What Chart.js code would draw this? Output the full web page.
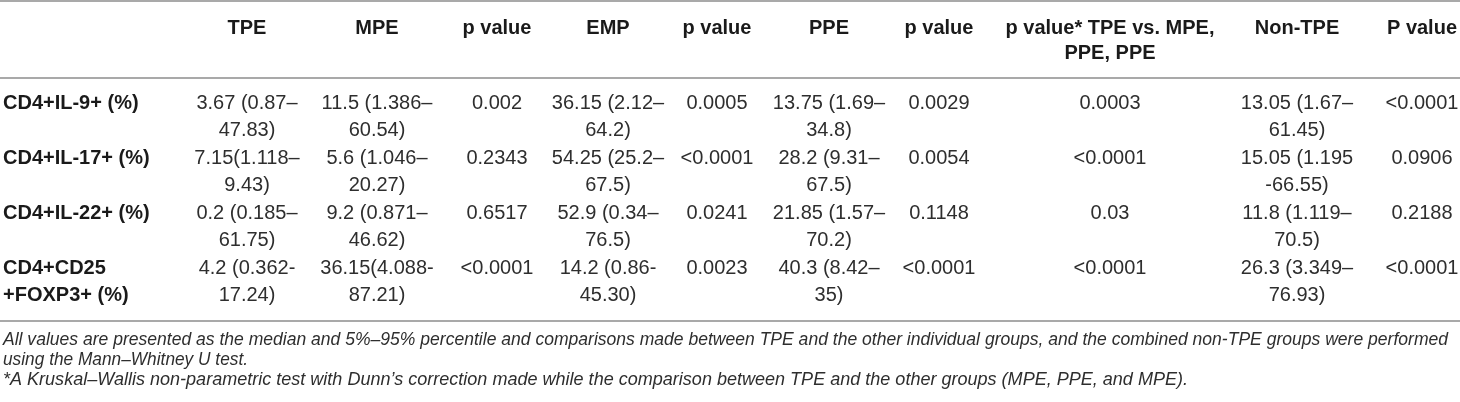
<!DOCTYPE html>
<html>
<head>
<meta charset="utf-8">
<script src="https://cdn.jsdelivr.net/npm/chart.js@4.4.1/dist/chart.umd.min.js"></script>
<style>
  html, body { margin: 0; padding: 0; background: #fff; }
  #wrap { width: 1460px; height: 402px; position: relative; }
</style>
</head>
<body>
<div id="wrap"><canvas id="tableChart"></canvas></div>
<script>
// table content, "\n" marks where the original cell wraps
const headers = ["TPE", "MPE", "p value", "EMP", "p value", "PPE", "p value",
  "p value* TPE vs. MPE,\nPPE, PPE", "Non-TPE", "P value"];

const rowLabels = ["CD4+IL-9+ (%)", "CD4+IL-17+ (%)", "CD4+IL-22+ (%)", "CD4+CD25\n+FOXP3+ (%)"];

const tpe = ["3.67 (0.87–\n47.83)", "7.15(1.118–\n9.43)", "0.2 (0.185–\n61.75)", "4.2 (0.362-\n17.24)"];
const mpe = ["11.5 (1.386–\n60.54)", "5.6 (1.046–\n20.27)", "9.2 (0.871–\n46.62)", "36.15(4.088-\n87.21)"];
const pMpe = ["0.002", "0.2343", "0.6517", "<0.0001"];
const emp = ["36.15 (2.12–\n64.2)", "54.25 (25.2–\n67.5)", "52.9 (0.34–\n76.5)", "14.2 (0.86-\n45.30)"];
const pEmp = ["0.0005", "<0.0001", "0.0241", "0.0023"];
const ppe = ["13.75 (1.69–\n34.8)", "28.2 (9.31–\n67.5)", "21.85 (1.57–\n70.2)", "40.3 (8.42–\n35)"];
const pPpe = ["0.0029", "0.0054", "0.1148", "<0.0001"];
const pKruskal = ["0.0003", "<0.0001", "0.03", "<0.0001"];
const nonTpe = ["13.05 (1.67–\n61.45)", "15.05 (1.195\n-66.55)", "11.8 (1.119–\n70.5)", "26.3 (3.349–\n76.93)"];
const pNonTpe = ["<0.0001", "0.0906", "0.2188", "<0.0001"];

const footnotes = [
  "All values are presented as the median and 5%–95% percentile and comparisons made between TPE and the other individual groups, and the combined non-TPE groups were performed",
  "using the Mann–Whitney U test.",
  "*A Kruskal–Wallis non-parametric test with Dunn’s correction made while the comparison between TPE and the other groups (MPE, PPE, and MPE)."
];

const columns = [tpe, mpe, pMpe, emp, pEmp, ppe, pPpe, pKruskal, nonTpe, pNonTpe];

// layout (in scale units = px of the 1460x402 picture)
const layout = {
  colCenter: [247, 377, 497, 608, 717, 829, 939, 1110, 1297, 1422],
  labelX: 3,
  headY: 28, headLine: 25,
  rowY: 103, rowStep: 55, lineStep: 27.5,
  rules: [1, 78, 321],
  noteX: 3, noteY: [340, 360, 380], noteEnd: [1448, 248, 1188]
};

const FONT = '"Liberation Sans", Arial, sans-serif';

const tablePlugin = {
  id: "tableCells",
  afterDraw(chart) {
    const ctx = chart.ctx;
    const xs = chart.scales.x, ys = chart.scales.y;
    const px = v => xs.getPixelForValue(v);
    const py = v => ys.getPixelForValue(v);
    ctx.save();

    // horizontal rules
    ctx.strokeStyle = "#a9a9a9";
    ctx.lineWidth = 2;
    layout.rules.forEach(r => {
      ctx.beginPath();
      ctx.moveTo(px(0), py(r));
      ctx.lineTo(px(1460), py(r));
      ctx.stroke();
    });

    ctx.textBaseline = "middle";

    // header row
    ctx.fillStyle = "#1a1a1a";
    ctx.font = "bold 20px " + FONT;
    ctx.textAlign = "center";
    headers.forEach((h, i) => {
      h.split("\n").forEach((line, k) => {
        ctx.fillText(line, px(layout.colCenter[i]), py(layout.headY + k * layout.headLine));
      });
    });

    // row labels
    ctx.textAlign = "left";
    rowLabels.forEach((lab, r) => {
      lab.split("\n").forEach((line, k) => {
        ctx.fillText(line, px(layout.labelX), py(layout.rowY + r * layout.rowStep + k * layout.lineStep));
      });
    });

    // body cells
    ctx.fillStyle = "#2e2e2e";
    ctx.font = "20px " + FONT;
    ctx.textAlign = "center";
    columns.forEach((col, c) => {
      col.forEach((cell, r) => {
        cell.split("\n").forEach((line, k) => {
          ctx.fillText(line, px(layout.colCenter[c]), py(layout.rowY + r * layout.rowStep + k * layout.lineStep));
        });
      });
    });

    // footnotes, condensed italic squeezed to the original line lengths
    ctx.fillStyle = "#2e2e2e";
    ctx.font = "italic 18px " + FONT;
    ctx.textAlign = "left";
    footnotes.forEach((t, i) => {
      const x0 = px(layout.noteX);
      const w = ctx.measureText(t).width;
      const s = (px(layout.noteEnd[i]) - x0) / w;
      ctx.save();
      ctx.translate(x0, py(layout.noteY[i]));
      ctx.scale(s, 1);
      ctx.fillText(t, 0, 0);
      ctx.restore();
    });

    ctx.restore();
  }
};

const ctx = document.getElementById("tableChart");
const tableChart = new Chart(ctx, {
  type: "scatter",
  data: { datasets: [] },
  options: {
    responsive: true,
    maintainAspectRatio: false,
    animation: false,
    layout: { padding: 0 },
    plugins: { legend: { display: false }, tooltip: { enabled: false }, title: { display: false } },
    scales: {
      x: { type: "linear", min: 0, max: 1460, display: false },
      y: { type: "linear", min: 0, max: 402, reverse: true, display: false }
    }
  },
  plugins: [tablePlugin]
});
</script>
</body>
</html>
